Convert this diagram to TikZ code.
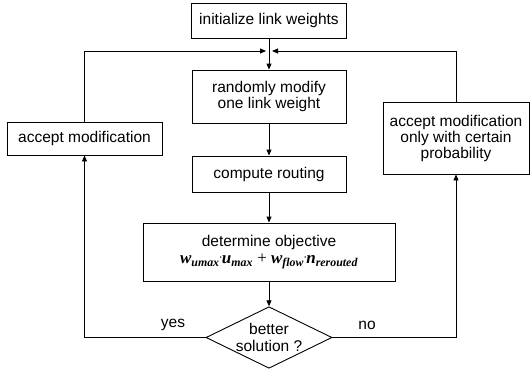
\documentclass[tikz,border=0pt]{standalone}
\usepackage{fontspec}
\setmainfont{Liberation Sans}
\newfontfamily\formfont{Liberation Serif}
\usetikzlibrary{arrows.meta, calc, shapes.geometric}
\tikzset{
  flowbox/.style={draw, line width=0.9pt, align=center, inner sep=0pt,
    font=\fontsize{15.5}{16}\selectfont},
  decision/.style={diamond, draw, line width=0.9pt, align=center, aspect=2,
    inner sep=0pt, minimum width=126pt, minimum height=61pt,
    font=\fontsize{15.5}{17}\selectfont},
  flowline/.style={line width=0.9pt, -{Triangle[length=6pt, width=5pt]}},
  branch/.style={font=\fontsize{15.5}{16}\selectfont}
}
\newcommand{\wdot}{\raisebox{3pt}{\small\textperiodcentered}}

\begin{document}
\begin{tikzpicture}[x=1pt, y=-1pt]
  \useasboundingbox (0,0) rectangle (530,370);
  \node[flowbox, minimum width=155pt, minimum height=35pt] (init) at (269,20.5) {initialize link weights};
  \node[flowbox, minimum width=154pt, minimum height=53pt] (modify) at (269,96.5) {randomly modify\\one link weight};
  \node[flowbox, minimum width=154pt, minimum height=36pt] (routing) at (269,174) {compute routing};
  \node[flowbox, minimum width=252pt, minimum height=58pt] (objective) at (269,252)
    {determine objective\\[1pt]{\formfont\bfseries\itshape\fontsize{17}{17}\selectfont
     w\textsubscript{umax}\wdot u\textsubscript{max} {\upshape\mdseries +}
     w\textsubscript{flow}\wdot n\textsubscript{rerouted}}};
  \node[decision] (better) at (269,337.5) {better\\solution ?};
  \node[flowbox, minimum width=155pt, minimum height=33pt] (accept) at (84.5,138.5) {accept modification};
  \node[flowbox, minimum width=146pt, minimum height=72pt] (maybe) at (456,138) {accept modification\\only with certain\\probability};
  \coordinate (joinL) at (266,51);
  \coordinate (joinR) at (272,51);
  \node[branch] (yes) at (173,325) {yes};
  \node[branch] (no) at (367,325) {no};
  \draw[flowline] (init) -- (modify);
  \draw[flowline] (modify) -- (routing);
  \draw[flowline] (routing) -- (objective);
  \draw[flowline] (objective) -- (better);
  \draw[flowline] (accept.north) |- (joinL);
  \draw[flowline] (maybe.north) |- (joinR);
  \draw[flowline] (better.west) -| (accept.south);
  \draw[flowline] (better.east) -| (maybe.south);
\end{tikzpicture}
\end{document}
